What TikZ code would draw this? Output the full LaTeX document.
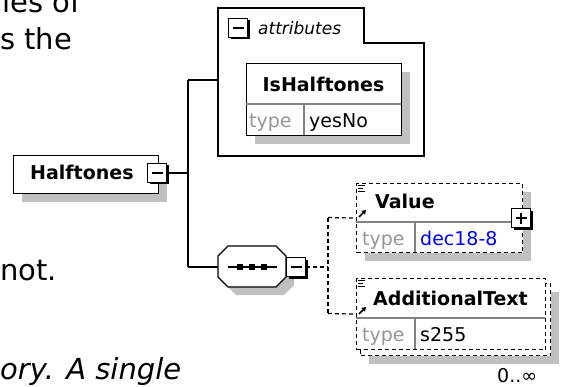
\documentclass[tikz,border=0pt]{standalone}
\usepackage{fontspec}
\setmainfont{DejaVu Sans}
\usetikzlibrary{positioning,arrows.meta,shadows,calc}
\definecolor{shadowgray}{RGB}{192,192,192}
\definecolor{typegray}{RGB}{150,150,150}
\definecolor{divgray}{RGB}{130,130,130}

% little marks in the top left corner of an element box
\newcommand{\refmark}[2]{%
  \draw[line width=0.9pt] ([shift={(2,2.5)}]#1.north west) -- ++(7,0)
        ([shift={(2,5.5)}]#1.north west) -- ++(5,0)
        ([shift={(2,8.5)}]#1.north west) -- ++(7,0);
  \draw[line width=1.6pt, -{Triangle[length=4pt,width=5pt]}]
        ([shift={(3,#2)}]#1.north west) -- ++(7,-7);}

\begin{document}
\begin{tikzpicture}[x=1pt, y=-1pt,
  el/.style={draw, fill=white, line width=1.2pt, inner sep=0pt, anchor=north west,
             drop shadow={shadow xshift=8pt, shadow yshift=-8pt, fill=shadowgray, opacity=1}},
  opt/.style={el, dash pattern=on 4pt off 3pt},
  optplain/.style={draw, fill=white, line width=1.2pt, inner sep=0pt, anchor=north west,
                   dash pattern=on 4pt off 3pt},
  tgl/.style={draw, fill=white, line width=1.3pt, minimum size=19pt, inner sep=0pt,
              drop shadow={shadow xshift=2pt, shadow yshift=-2pt, fill=black, opacity=1}},
  minus/.style={tgl, path picture={
      \draw[line width=1.1pt] ([xshift=4pt]path picture bounding box.west)
                           -- ([xshift=-4pt]path picture bounding box.east);}},
  plus/.style={tgl, path picture={
      \draw[line width=1.1pt] ([xshift=4pt]path picture bounding box.west)
                           -- ([xshift=-4pt]path picture bounding box.east)
                              ([yshift=4pt]path picture bounding box.south)
                           -- ([yshift=-4pt]path picture bounding box.north);}},
  ename/.style={font=\fontsize{19}{22}\selectfont\bfseries, anchor=base west, inner sep=0pt},
  typelbl/.style={font=\fontsize{19}{22}\selectfont, text=typegray, anchor=base west, inner sep=0pt},
  typeval/.style={font=\fontsize{19}{22}\selectfont, text=#1, anchor=base west, inner sep=0pt},
  typeval/.default=black,
  page/.style={font=\fontsize{29}{35}\selectfont, anchor=base west, inner sep=0pt},
  link/.style={line width=1.2pt},
  optlink/.style={link, dash pattern=on 4pt off 3pt},
  divl/.style={line width=1.2pt, divgray}
]
\useasboundingbox (0,0) rectangle (561,387);
\clip (0,0) rectangle (561,387);

% page text round the picture
\node[page] (pg1) at (2,13) {ies of};
\node[page] (pg2) at (0,50) {s the};
\node[page] (pg3) at (0,280) {not.};
\node[page] (pg4) at (0,379) {\itshape ory. A single};

% Halftones
\node[el, minimum width=145pt, minimum height=38pt] (half) at (13,155) {};
\node[ename] (halfname) at (30,180) {Halftones};
\node[minus] (halftgl) at (157,173) {};

\coordinate (fork)   at (188,173);
\coordinate (forkup) at (188,80);
\coordinate (forkdn) at (188,267);
\coordinate (attrin) at (218,80);

% attributes
\draw[link, fill=white] (218,8) -- (364,8) -- (364,43) -- (424,43) -- (424,156)
  -- (218,156) -- cycle;
\node[minus] (attrtgl) at (238,28) {};
\node[font=\fontsize{17}{20}\selectfont\itshape, anchor=base west, inner sep=0pt]
  (attrname) at (258,35) {attributes};

\node[el, minimum width=155pt, minimum height=72pt] (ish) at (246,63) {};
\draw[divl] (246,104) -- (401,104);
\draw[divl] (304,104) -- (304,135);
\node[ename, anchor=base] (ishname) at (323.5,92) {IsHalftones};
\node[typelbl] (ishtype) at (249,128) {type};
\node[typeval] (ishval) at (309,128) {yesNo};

% sequence
\fill[shadowgray] (236,254) -- (284,254) -- (294,264) -- (294,285)
  -- (284,295) -- (236,295) -- (226,285) -- (226,264) -- cycle;
\draw[link, fill=white] (228,246) -- (276,246) -- (286,256) -- (286,277)
  -- (276,287) -- (228,287) -- (218,277) -- (218,256) -- cycle;
\coordinate (seq) at (218,267);
\draw[link] (228,267) -- (277,267);
\foreach \x in {240,252,264}
  \fill (\x,267) +(-3,-3) rectangle +(3,3);
\node[minus] (seqtgl) at (296,267) {};

\draw[link] (halftgl.east) -- (fork);
\draw[link] (forkup) -- (forkdn);
\draw[link] (forkup) -- (attrin);
\draw[link] (forkdn) -- (seq);

% Value
\node[opt, minimum width=166pt, minimum height=69pt] (value) at (356,183) {};
\draw[divl] (356,222) -- (522,222);
\draw[divl] (415,222) -- (415,252);
\node[ename] (valname) at (375,208) {Value};
\node[typelbl] (valtype) at (362,245) {type};
\node[typeval=blue] (valval) at (420,245) {dec18-8};
\refmark{value}{34}
\node[plus] (valtgl) at (521,218) {};

% AdditionalText
\node[opt, minimum width=190pt, minimum height=72pt] (addback) at (360,283) {};
\node[optplain, minimum width=189pt, minimum height=71pt] (addtext) at (356,278) {};
\draw[divl] (356,318) -- (545,318);
\draw[divl] (415,318) -- (415,349);
\node[ename] (addname) at (373,305) {AdditionalText};
\node[typelbl] (addtype) at (362,341) {type};
\node[typeval] (addval) at (420,341) {s255};
\refmark{addtext}{36}
\node[typeval] (addocc) at (497,382) {0..∞};

\coordinate (split)   at (328,267);
\coordinate (splitup) at (328,217.5);
\coordinate (splitdn) at (328,313.5);
\draw[optlink] (seqtgl.east) -- (split);
\draw[optlink] (splitup) -- (splitdn);
\draw[optlink] (splitup) -- (value.west);
\draw[optlink] (splitdn) -- (addtext.west);
\end{tikzpicture}
\end{document}
